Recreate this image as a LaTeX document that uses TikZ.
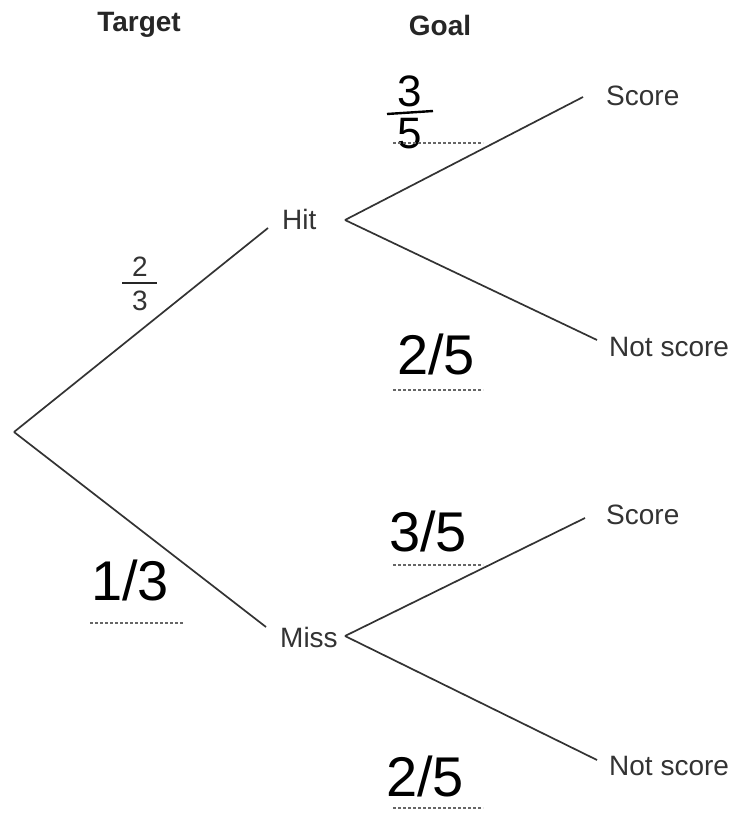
\documentclass[tikz,border=0pt]{standalone}
\usepackage{fontspec}
\setmainfont{Liberation Sans}
\begin{document}
\begin{tikzpicture}[x=1pt,y=-1pt,
  branch/.style={draw=black!80, line width=1.7pt},
  lbl/.style={text=black!80, font=\fontsize{28}{32}\selectfont, inner sep=0pt},
  head/.style={text=black!85, font=\fontsize{28}{32}\selectfont\bfseries, inner sep=0pt},
  hand/.style={text=black, font=\fontsize{56}{60}\selectfont, inner sep=0pt},
  hands/.style={text=black, font=\fontsize{44}{48}\selectfont, inner sep=0pt},
  blank/.style={draw=black!60, line width=1.2pt, dash pattern=on 2.5pt off 2.5pt}]
\path[use as bounding box, fill=white] (0,0) rectangle (734,814);
% headings
\node[head] (target) at (139,25) {Target};
\node[head] (goal) at (440,25) {Goal};
% nodes
\coordinate (root) at (14,432);
\node[lbl, anchor=west] (hit) at (282,219) {Hit};
\node[lbl, anchor=west] (miss) at (280,637) {Miss};
\node[lbl, anchor=west] (s1) at (606,96) {Score};
\node[lbl, anchor=west] (n1) at (609,347) {Not score};
\node[lbl, anchor=west] (s2) at (606,515) {Score};
\node[lbl, anchor=west] (n2) at (609,766) {Not score};
\coordinate (hitin) at (268,228);
\coordinate (hitout) at (345,220);
\coordinate (missin) at (266,627);
\coordinate (missout) at (345,636);
\coordinate (s1e) at (583,97);
\coordinate (n1e) at (597,340);
\coordinate (s2e) at (585,518);
\coordinate (n2e) at (597,760);
% branches
\draw[branch] (root) -- (hitin);
\draw[branch] (root) -- (missin);
\draw[branch] (hitout) -- (s1e);
\draw[branch] (hitout) -- (n1e);
\draw[branch] (missout) -- (s2e);
\draw[branch] (missout) -- (n2e);
% printed fraction 2/3
\node[lbl] (f2) at (140,267) {2};
\draw[draw=black!85, line width=2.2pt] (122,283) -- (157,283);
\node[lbl] (f3) at (140,301) {3};
% handwritten probabilities
\node[hands] (t3) at (410,91) {3};
\draw[line width=2.4pt] (387,114) -- (433,111);
\node[hands] (t5) at (410,134) {5};
\draw[blank] (393,143) -- (483,143);
\node[hand] (a25) at (436,354) {2/5};
\draw[blank] (393,390) -- (483,390);
\node[hand] (b35) at (428,531) {3/5};
\draw[blank] (393,565) -- (483,565);
\node[hand] (c13) at (130,580) {1/3};
\draw[blank] (90,623) -- (183,623);
\node[hand] (d25) at (425,776) {2/5};
\draw[blank] (393,808) -- (483,808);
\end{tikzpicture}
\end{document}
